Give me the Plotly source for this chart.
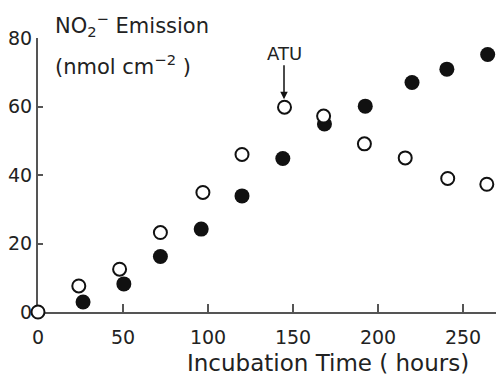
import plotly.graph_objects as go

# Data
time_open = [0, 24, 48, 72, 97, 120, 145, 168, 192, 216, 241, 264]
emission_open = [0, 7.6, 12.5, 23.2, 34.9, 46, 59.8, 57.2, 49.1, 45, 39, 37.3]
time_filled = [26.5, 50.5, 72, 96, 120, 144, 168.5, 192.5, 220, 240.5, 264.5]
emission_filled = [2.9, 8.2, 16.2, 24.2, 33.9, 44.8, 54.9, 60.1, 67, 70.9, 75.2]
x_ticks = [0, 50, 100, 150, 200, 250]
y_ticks = [0, 20, 40, 60, 80]

FONT = "DejaVu Sans"
INK = "#111111"
AXIS = "#555555"

fig = go.Figure()
fig.add_trace(go.Scatter(
    x=time_filled, y=emission_filled, mode="markers",
    marker=dict(size=15, color=INK, line=dict(width=0)),
    cliponaxis=False, showlegend=False))
fig.add_trace(go.Scatter(
    x=time_open, y=emission_open, mode="markers",
    marker=dict(size=13, color="white", line=dict(width=2, color=INK)),
    cliponaxis=False, showlegend=False))

fig.update_layout(
    width=496, height=376,
    margin=dict(l=38, r=0, t=38, b=64, autoexpand=False),
    paper_bgcolor="white", plot_bgcolor="white",
    font=dict(family=FONT, color="#222222", size=19),
    xaxis=dict(range=[0, 269.4], tickvals=x_ticks, ticks="inside", ticklen=8,
               tickwidth=1.5, tickcolor=AXIS, showline=True, linecolor=AXIS,
               linewidth=2, showgrid=False, zeroline=False, layer="below traces",
               automargin=False, ticklabelstandoff=7, tickfont=dict(size=19)),
    yaxis=dict(range=[0, 80], tickvals=y_ticks, ticks="inside", ticklen=5,
               tickwidth=1.5, tickcolor=AXIS, showline=True, linecolor=AXIS,
               linewidth=2, showgrid=False, zeroline=False, layer="below traces",
               automargin=False, tickfont=dict(size=19)),
)

fig.add_annotation(x=0.0328, y=1.047, xref="paper", yref="paper", xanchor="left",
                   yanchor="middle", text="NO<sub>2</sub><sup>−</sup> Emission",
                   showarrow=False, font=dict(size=21, family=FONT))
fig.add_annotation(x=0.0328, y=0.901, xref="paper", yref="paper", xanchor="left",
                   yanchor="middle", text="(nmol cm<sup>−2</sup> )", showarrow=False,
                   font=dict(size=21, family=FONT))
fig.add_annotation(x=0.633, y=-0.186, xref="paper", yref="paper", xanchor="center",
                   yanchor="middle", text="Incubation Time ( hours)", showarrow=False,
                   borderpad=0, font=dict(size=23, family=FONT))
fig.add_annotation(x=144.7, y=59.8, xref="x", yref="y", text="ATU", showarrow=True,
                   ax=0, ay=-54, arrowhead=2, arrowsize=1, arrowwidth=1.5,
                   arrowcolor=INK, standoff=8, font=dict(size=18, family=FONT))

fig.write_html("out.html",
               config={"displayModeBar": False},
               post_script="document.body.style.margin='0';"
                           "document.body.style.overflow='hidden';")
